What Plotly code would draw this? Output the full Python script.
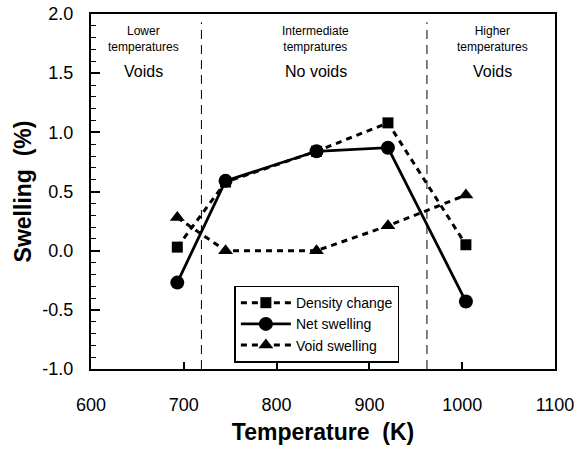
import plotly.graph_objects as go

temps = [693, 745, 843, 920, 1004]
density_change = [0.03, 0.58, 0.84, 1.08, 0.05]
net_swelling = [-0.27, 0.59, 0.84, 0.87, -0.43]
void_swelling = [0.28, 0.00, 0.00, 0.21, 0.47]
boundaries = [719, 962]
region_x = [657, 842, 1033]
region_top = ["Lower<br>temperatures", "Intermediate<br>tempratures", "Higher<br>temperatures"]
region_bottom = ["Voids", "No voids", "Voids"]
x_ticks = [600, 700, 800, 900, 1000, 1100]
y_ticks = [-1.0, -0.5, 0.0, 0.5, 1.0, 1.5, 2.0]
y_ticklabels = ["-1.0", "-0.5", "0.0", "0.5", "1.0", "1.5", "2.0"]

FONT = "Liberation Sans, Arial, sans-serif"

fig = go.Figure()
fig.add_trace(go.Scatter(x=temps, y=density_change, name="Density change", mode="lines+markers",
                         line=dict(color="black", width=3, dash="6px,5px"),
                         marker=dict(symbol="square", size=11, color="black")))
fig.add_trace(go.Scatter(x=temps, y=net_swelling, name="Net swelling", mode="lines+markers",
                         line=dict(color="black", width=2.8),
                         marker=dict(symbol="circle", size=14, color="black")))
fig.add_trace(go.Scatter(x=temps, y=void_swelling, name="Void swelling", mode="lines+markers",
                         line=dict(color="black", width=3, dash="6px,5px"),
                         marker=dict(symbol="triangle-up", size=13, color="black")))

for b in boundaries:
    fig.add_shape(type="line", x0=b, x1=b, y0=-1.0, y1=1.93, xref="x", yref="y",
                  line=dict(color="black", width=1, dash="9px,6px"))

for xc, t, b in zip(region_x, region_top, region_bottom):
    fig.add_annotation(x=xc, y=1.785, text=t, showarrow=False, xref="x", yref="y",
                       font=dict(family=FONT, size=12, color="black"))
    fig.add_annotation(x=xc, y=1.51, text=b, showarrow=False, xref="x", yref="y",
                       font=dict(family=FONT, size=16, color="black"))

fig.update_layout(
    width=577, height=450,
    margin=dict(l=91, r=22, t=14, b=81),
    paper_bgcolor="white", plot_bgcolor="white",
    font=dict(family=FONT, color="black"),
    showlegend=True,
    legend=dict(x=0.309, y=0.235, xanchor="left", yanchor="top",
                bordercolor="black", borderwidth=1.5, bgcolor="white",
                font=dict(family=FONT, size=14, color="black"),
                itemwidth=50, tracegroupgap=0),
    xaxis=dict(range=[600, 1100], tickvals=x_ticks, automargin=False,
               ticks="inside", ticklen=7, tickwidth=1.5, tickcolor="black",
               ticklabelstandoff=18,
               showline=True, linecolor="black", linewidth=2, mirror=True,
               showgrid=False, zeroline=False,
               tickfont=dict(family=FONT, size=18, color="black"),
               title=dict(text="<b>Temperature  (K)</b>", font=dict(family=FONT, size=23, color="black"), standoff=10)),
    yaxis=dict(range=[-1.0, 2.0], tickvals=y_ticks, ticktext=y_ticklabels, automargin=False,
               ticks="inside", ticklen=9, tickwidth=1.5, tickcolor="black",
               ticklabelstandoff=12,
               minor=dict(dtick=0.1, ticks="inside", ticklen=5, tickwidth=1, tickcolor="black"),
               showline=True, linecolor="black", linewidth=2, mirror=True,
               showgrid=False, zeroline=False,
               tickfont=dict(family=FONT, size=18, color="black"),
               title=dict(text="<b>Swelling  (%)</b>", font=dict(family=FONT, size=23, color="black"), standoff=4)),
)

fig.write_html("out.html")
